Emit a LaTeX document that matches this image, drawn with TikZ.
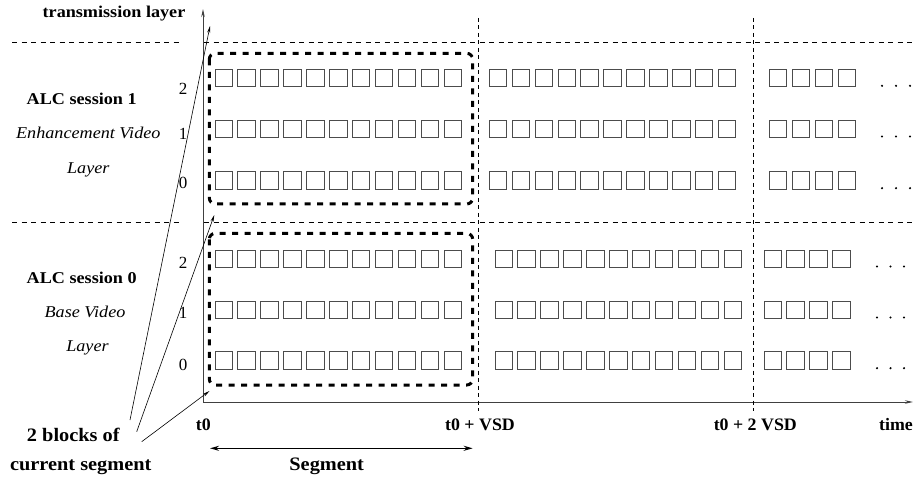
\documentclass[tikz,border=0pt]{standalone}
\usepackage{fontspec}
\setmainfont{Liberation Serif}
\usetikzlibrary{arrows.meta}
\newcommand{\hx}[2][1.1]{\scalebox{#1}[1]{#2}}
\begin{document}
\begin{tikzpicture}[x=1pt,y=-1pt,
  lbl/.style={inner sep=0pt, anchor=base, font=\fontsize{16.5}{19}\selectfont\bfseries},
  ital/.style={inner sep=0pt, anchor=base, font=\fontsize{16.5}{19}\selectfont\itshape},
  tlbl/.style={inner sep=0pt, anchor=base, font=\fontsize{17.5}{20}\selectfont\bfseries},
  big/.style={inner sep=0pt, anchor=base, font=\fontsize{19}{22}\selectfont\bfseries},
  num/.style={inner sep=0pt, anchor=base, font=\fontsize{17}{20}\selectfont},
  axisline/.style={line width=0.9pt, draw=black!75, -{Stealth[length=8pt,width=3.5pt]}},
  hdash/.style={line width=0.7pt, dash pattern=on 5pt off 4.5pt},
  vdash/.style={line width=0.7pt, dash pattern=on 4pt off 3.5pt},
  segbox/.style={line width=3pt, dash pattern=on 6pt off 6.5pt, rounded corners=6pt},
  sq/.style={line width=0.9pt, draw=black!70},
  pointer/.style={line width=0.6pt, -{Stealth[length=7pt,width=3pt]}},
  segarrow/.style={line width=1.5pt, {Stealth[length=9pt,width=5pt]}-{Stealth[length=9pt,width=5pt]}},
  dot/.style={fill=black, draw=none}
]
\useasboundingbox (0,0) rectangle (916,481);

% axes
\coordinate (O) at (203,402);
\coordinate (ytip) at (203,9);
\coordinate (xtip) at (913,402);
\draw[axisline] (O) -- (ytip);
\draw[axisline] (O) -- (xtip);

% horizontal dashed separators
\coordinate (h1a) at (12,42);  \coordinate (h1b) at (183,42);
\coordinate (h1c) at (204,42); \coordinate (h1d) at (916,42);
\coordinate (h2a) at (12,222); \coordinate (h2b) at (183,222);
\coordinate (h2c) at (204,222); \coordinate (h2d) at (916,222);
\draw[hdash] (h1a) -- (h1b);
\draw[hdash] (h1c) -- (h1d);
\draw[hdash] (h2a) -- (h2b);
\draw[hdash] (h2c) -- (h2d);

% vertical dashed time marks
\coordinate (v1a) at (478,18); \coordinate (v1b) at (478,411);
\coordinate (v2a) at (753,18); \coordinate (v2b) at (753,411);
\draw[vdash] (v1a) -- (v1b);
\draw[vdash] (v2a) -- (v2b);

% blocks: session 1
\foreach \y in {69.3,120,171.7} {
  \foreach \i in {0,...,10} {
    \draw[sq] (215+\i*22.9,\y) rectangle ++(17.5,17.3);
    \draw[sq] (489.3+\i*22.9,\y) rectangle ++(17.5,17.3);
  }
  \foreach \i in {0,...,3} {
    \draw[sq] (769.3+\i*22.9,\y) rectangle ++(17.5,17.3);
  }
  \foreach \i in {0,1,2} {
    \fill[dot] (882+\i*14,\y+16.5) circle (1.2pt);
  }
}
% blocks: session 0
\foreach \y in {250,301,351.7} {
  \foreach \i in {0,...,10} {
    \draw[sq] (215+\i*22.9,\y) rectangle ++(17.5,17.3);
    \draw[sq] (495+\i*22.9,\y) rectangle ++(17.5,17.3);
  }
  \foreach \i in {0,...,3} {
    \draw[sq] (764+\i*22.9,\y) rectangle ++(17.5,17.3);
  }
  \foreach \i in {0,1,2} {
    \fill[dot] (877+\i*13.5,\y+16.5) circle (1.2pt);
  }
}

% current segment boxes
\draw[segbox] (209.3,53.3) rectangle (472.7,204);
\draw[segbox] (209.3,233.3) rectangle (472.7,385);

% texts
\node[lbl] (trans) at (114,17.7) {\hx{transmission layer}};
\node[lbl] (s1) at (81.7,105) {\hx{ALC session 1}};
\node[ital] (e1) at (88.3,138.3) {\hx{Enhancement Video}};
\node[ital] (l1) at (88.3,173.3) {\hx{Layer}};
\node[lbl] (s0) at (81.7,283.3) {\hx{ALC session 0}};
\node[ital] (b0) at (85,317) {\hx{Base Video}};
\node[ital] (l0) at (87.5,351.7) {\hx{Layer}};
\node[big] (blocks) at (73.3,441.7) {\hx[1.07]{2 blocks of}};
\node[big] (cur) at (80.8,470) {\hx[1.07]{current segment}};
\node[tlbl] (t0) at (203.3,430) {\hx[1.02]{t0}};
\node[tlbl] (vsd1) at (480,430) {\hx[1.02]{t0 + VSD}};
\node[tlbl] (vsd2) at (755.3,430) {\hx[1.02]{t0 + 2 VSD}};
\node[tlbl] (time) at (896,430) {\hx[1.02]{time}};
\node[big] (seg) at (326.7,470.7) {\hx[1.07]{Segment}};

% row numbers
\node[num] (n12) at (183,94.3) {2};
\node[num] (n11) at (183,140) {1};
\node[num] (n10) at (183,188.3) {0};
\node[num] (n02) at (183,268.3) {2};
\node[num] (n01) at (183,318.3) {1};
\node[num] (n00) at (183,370) {0};

% pointers
\coordinate (p1s) at (130,420);   \coordinate (p1e) at (210,26);
\coordinate (p2s) at (136.7,431.7); \coordinate (p2e) at (214.3,215);
\coordinate (p3s) at (141.7,441.7); \coordinate (p3e) at (209.5,391);
\draw[pointer] (p1s) -- (p1e);
\draw[pointer] (p2s) -- (p2e);
\draw[pointer] (p3s) -- (p3e);

% segment extent
\coordinate (sa) at (210,448.3);
\coordinate (sb) at (472.7,448.3);
\draw[segarrow] (sa) -- (sb);
\end{tikzpicture}
\end{document}
